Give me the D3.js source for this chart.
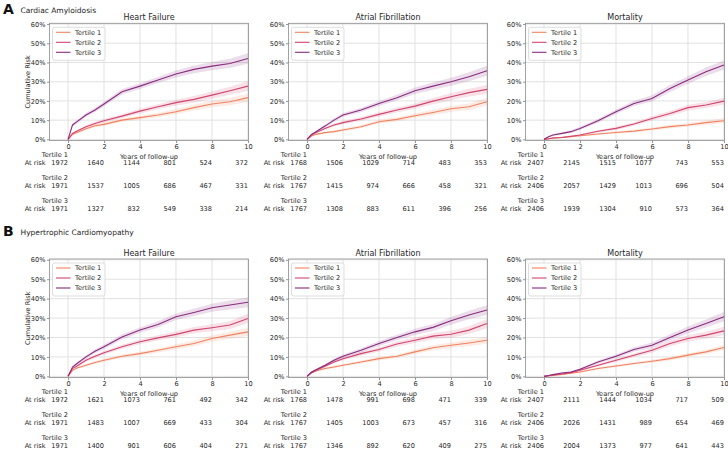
<!DOCTYPE html>
<html><head><meta charset="utf-8">
<script src="https://cdn.jsdelivr.net/npm/d3@7"></script>
<style>
body{margin:0;background:#fff;}
svg{font-family:"DejaVu Sans",sans-serif;}
</style></head>
<body><svg id="c" width="728" height="451"></svg>
<script>
// ---------- data ----------
const timeGrid = [0, 0.25, 0.5, 1, 1.5, 2, 3, 4, 5, 6, 7, 8, 9, 10];
const xTickValues = [0, 2, 4, 6, 8, 10];
const yTickValues = [0, 10, 20, 30, 40, 50, 60];
const tertileNames = ["Tertile 1", "Tertile 2", "Tertile 3"];
const diseaseNames = ["Cardiac Amyloidosis", "Hypertrophic Cardiomyopathy"];
const panelLetters = ["A", "B"];
const outcomeNames = ["Heart Failure", "Atrial Fibrillation", "Mortality"];

// cumulative risk (%) per tertile
const caHF_t1 = [0, 2.6, 3.6, 5.5, 7.1, 7.8, 10.0, 11.3, 12.7, 14.4, 16.5, 18.4, 19.6, 21.7];
const caHF_t2 = [0, 3.1, 4.3, 6.6, 8.3, 9.7, 12.1, 14.7, 17.0, 19.1, 20.8, 23.0, 25.3, 27.7];
const caHF_t3 = [0, 7.5, 9.2, 12.7, 15.3, 18.4, 24.8, 27.7, 30.9, 34.0, 36.4, 38.1, 39.5, 42.1];
const caAF_t1 = [0, 1.7, 2.6, 3.5, 4.0, 4.9, 6.6, 9.2, 10.4, 12.3, 14.0, 15.9, 17.0, 19.6];
const caAF_t2 = [0, 2.3, 3.5, 5.7, 7.5, 8.7, 10.6, 13.0, 15.3, 17.3, 19.9, 22.2, 24.3, 26.0];
const caAF_t3 = [0, 2.6, 4.0, 6.9, 10.0, 12.7, 15.3, 18.7, 21.7, 25.3, 27.7, 30.0, 32.6, 35.7];
const caMort_t1 = [0, 0.3, 0.7, 1.0, 1.4, 1.9, 2.8, 3.6, 4.3, 5.4, 6.6, 7.5, 8.7, 9.7];
const caMort_t2 = [0, 0.3, 0.7, 1.0, 1.6, 2.3, 4.2, 5.7, 8.0, 10.9, 13.5, 16.5, 17.9, 19.9];
const caMort_t3 = [0, 1.4, 2.3, 3.1, 4.0, 5.7, 9.7, 14.4, 18.7, 21.3, 26.5, 30.9, 35.2, 38.7];
const hcmHF_t1 = [0, 3.1, 4.3, 5.7, 7.1, 8.3, 10.3, 11.7, 13.4, 15.2, 16.9, 19.5, 21.2, 22.9];
const hcmHF_t2 = [0, 4.0, 5.3, 8.3, 10.3, 12.1, 15.2, 17.8, 19.8, 21.6, 23.8, 25.0, 26.4, 29.8];
const hcmHF_t3 = [0, 4.8, 6.6, 10.0, 12.9, 15.2, 20.3, 23.8, 26.7, 30.7, 32.9, 35.3, 36.7, 38.1];
const hcmAF_t1 = [0, 1.7, 2.8, 4.0, 4.8, 5.7, 7.4, 9.1, 10.3, 12.6, 14.7, 16.0, 17.2, 18.6];
const hcmAF_t2 = [0, 1.9, 3.1, 5.2, 7.4, 9.1, 11.7, 13.8, 16.6, 18.6, 20.7, 21.7, 23.8, 27.2];
const hcmAF_t3 = [0, 2.2, 3.4, 5.7, 8.3, 10.3, 13.4, 16.9, 20.0, 22.9, 25.2, 28.6, 31.6, 34.1];
const hcmMort_t1 = [0, 0.2, 0.5, 1.0, 1.6, 2.2, 4.0, 5.3, 6.6, 7.8, 9.1, 10.9, 12.6, 14.8];
const hcmMort_t2 = [0, 0.3, 0.7, 1.2, 1.9, 3.1, 5.7, 8.3, 10.9, 13.4, 16.9, 19.5, 21.2, 23.4];
const hcmMort_t3 = [0, 0.4, 0.9, 1.7, 2.2, 3.6, 7.4, 10.3, 13.8, 16.0, 20.0, 23.8, 27.2, 30.7];

// confidence-band half widths (%)
const caHF_ci1 = [0, 0.5, 0.6, 0.7, 0.8, 0.8, 0.9, 1.0, 1.2, 1.3, 1.5, 1.7, 1.9, 2.2];
const caHF_ci2 = [0, 0.5, 0.6, 0.7, 0.8, 0.9, 1.0, 1.2, 1.3, 1.5, 1.7, 1.9, 2.1, 2.5];
const caHF_ci3 = [0, 0.8, 0.9, 1.0, 1.1, 1.2, 1.4, 1.5, 1.6, 1.8, 2.0, 2.2, 2.4, 2.7];
const caAF_ci1 = [0, 0.3, 0.4, 0.5, 0.6, 0.7, 0.8, 1.0, 1.1, 1.2, 1.4, 1.5, 1.7, 2.0];
const caAF_ci2 = [0, 0.4, 0.5, 0.6, 0.7, 0.8, 1.0, 1.1, 1.3, 1.4, 1.6, 1.8, 2.0, 2.3];
const caAF_ci3 = [0, 0.5, 0.6, 0.8, 0.9, 1.0, 1.2, 1.3, 1.5, 1.7, 1.9, 2.1, 2.3, 2.6];
const caMort_ci1 = [0, 0.2, 0.2, 0.3, 0.3, 0.4, 0.5, 0.6, 0.7, 0.8, 0.9, 1.0, 1.1, 1.3];
const caMort_ci2 = [0, 0.2, 0.3, 0.3, 0.4, 0.5, 0.6, 0.8, 0.9, 1.1, 1.3, 1.5, 1.6, 1.8];
const caMort_ci3 = [0, 0.4, 0.5, 0.6, 0.7, 0.8, 1.0, 1.2, 1.4, 1.6, 1.8, 2.0, 2.2, 2.4];
const hcmHF_ci1 = [0, 0.4, 0.5, 0.6, 0.7, 0.8, 0.9, 1.0, 1.1, 1.3, 1.4, 1.6, 1.8, 2.1];
const hcmHF_ci2 = [0, 0.5, 0.6, 0.7, 0.8, 0.9, 1.1, 1.2, 1.3, 1.5, 1.6, 1.8, 2.0, 2.4];
const hcmHF_ci3 = [0, 0.6, 0.7, 0.9, 1.0, 1.1, 1.3, 1.4, 1.6, 1.7, 1.9, 2.1, 2.3, 2.6];
const hcmAF_ci1 = [0, 0.3, 0.4, 0.5, 0.6, 0.7, 0.8, 0.9, 1.0, 1.1, 1.3, 1.4, 1.6, 1.8];
const hcmAF_ci2 = [0, 0.4, 0.5, 0.6, 0.7, 0.8, 1.0, 1.1, 1.3, 1.4, 1.6, 1.8, 2.0, 2.3];
const hcmAF_ci3 = [0, 0.4, 0.5, 0.6, 0.8, 0.9, 1.1, 1.3, 1.4, 1.6, 1.8, 2.0, 2.2, 2.5];
const hcmMort_ci1 = [0, 0.1, 0.2, 0.3, 0.3, 0.4, 0.5, 0.6, 0.7, 0.8, 0.9, 1.0, 1.1, 1.3];
const hcmMort_ci2 = [0, 0.2, 0.3, 0.4, 0.5, 0.6, 0.7, 0.9, 1.0, 1.2, 1.4, 1.6, 1.8, 2.1];
const hcmMort_ci3 = [0, 0.2, 0.3, 0.4, 0.5, 0.6, 0.8, 1.0, 1.2, 1.4, 1.6, 1.8, 2.1, 2.4];

// numbers at risk at years 0,2,4,6,8,10
const caHF_risk1 = [1972, 1640, 1144, 801, 524, 372];
const caHF_risk2 = [1971, 1537, 1005, 686, 467, 331];
const caHF_risk3 = [1971, 1327, 832, 549, 338, 214];
const caAF_risk1 = [1768, 1506, 1029, 714, 483, 353];
const caAF_risk2 = [1767, 1415, 974, 666, 458, 321];
const caAF_risk3 = [1767, 1308, 883, 611, 396, 256];
const caMort_risk1 = [2407, 2145, 1515, 1077, 743, 553];
const caMort_risk2 = [2406, 2057, 1429, 1013, 696, 504];
const caMort_risk3 = [2406, 1939, 1304, 910, 573, 364];
const hcmHF_risk1 = [1972, 1621, 1073, 761, 492, 342];
const hcmHF_risk2 = [1971, 1483, 1007, 669, 433, 304];
const hcmHF_risk3 = [1971, 1400, 901, 606, 404, 271];
const hcmAF_risk1 = [1768, 1478, 991, 698, 471, 339];
const hcmAF_risk2 = [1767, 1405, 1003, 673, 457, 316];
const hcmAF_risk3 = [1767, 1346, 892, 620, 409, 275];
const hcmMort_risk1 = [2407, 2111, 1444, 1034, 717, 509];
const hcmMort_risk2 = [2406, 2026, 1431, 989, 654, 469];
const hcmMort_risk3 = [2406, 2004, 1373, 977, 641, 443];

// ---------- assemble ----------
const panelData = [
  [ {risk:[caHF_t1,caHF_t2,caHF_t3], ci:[caHF_ci1,caHF_ci2,caHF_ci3], atRisk:[caHF_risk1,caHF_risk2,caHF_risk3]},
    {risk:[caAF_t1,caAF_t2,caAF_t3], ci:[caAF_ci1,caAF_ci2,caAF_ci3], atRisk:[caAF_risk1,caAF_risk2,caAF_risk3]},
    {risk:[caMort_t1,caMort_t2,caMort_t3], ci:[caMort_ci1,caMort_ci2,caMort_ci3], atRisk:[caMort_risk1,caMort_risk2,caMort_risk3]} ],
  [ {risk:[hcmHF_t1,hcmHF_t2,hcmHF_t3], ci:[hcmHF_ci1,hcmHF_ci2,hcmHF_ci3], atRisk:[hcmHF_risk1,hcmHF_risk2,hcmHF_risk3]},
    {risk:[hcmAF_t1,hcmAF_t2,hcmAF_t3], ci:[hcmAF_ci1,hcmAF_ci2,hcmAF_ci3], atRisk:[hcmAF_risk1,hcmAF_risk2,hcmAF_risk3]},
    {risk:[hcmMort_t1,hcmMort_t2,hcmMort_t3], ci:[hcmMort_ci1,hcmMort_ci2,hcmMort_ci3], atRisk:[hcmMort_risk1,hcmMort_risk2,hcmMort_risk3]} ]
];

// ---------- layout / style ----------
const colors = ["#f2825f", "#d2456f", "#8a2b80"];
const colLeft = [49.5, 288.5, 525.5];
const plotW = 199;
const rowTop = [23.3, 259];
const rowBottom = [140.5, 377.5];
const textColor = "#262626";
const fs = 6.6;

const svg = d3.select("#c");

panelLetters.forEach((L, r) => {
  const by = r === 0 ? 14 : 236;
  svg.append("text").attr("x", 3).attr("y", by).attr("font-size", 14).attr("font-weight", "bold")
    .attr("fill", "#111").text(L);
  svg.append("text").attr("x", 20.5).attr("y", by - 1.2).attr("font-size", 7.5).attr("fill", textColor)
    .text(diseaseNames[r]);
});

for (let r = 0; r < 2; r++) {
  for (let c = 0; c < 3; c++) {
    const pd = panelData[r][c];
    const x = d3.scaleLinear().domain([-1.03, 10.03]).range([colLeft[c], colLeft[c] + plotW]);
    const y = d3.scaleLinear().domain([-0.6, 60.4]).range([rowBottom[r], rowTop[r]]);
    const g = svg.append("g");
    const pt = rowTop[r], pb = rowBottom[r];

    // grid
    g.append("g").selectAll("line").data(xTickValues).join("line")
      .attr("x1", d => x(d)).attr("x2", d => x(d)).attr("y1", pt).attr("y2", pb)
      .attr("stroke", "#dedede").attr("stroke-width", 0.9);
    g.append("g").selectAll("line").data(yTickValues).join("line")
      .attr("y1", d => y(d)).attr("y2", d => y(d)).attr("x1", x.range()[0]).attr("x2", x.range()[1])
      .attr("stroke", "#dedede").attr("stroke-width", 0.9);

    // bands + lines
    const clipId = `clip${r}${c}`;
    svg.append("clipPath").attr("id", clipId).append("rect")
      .attr("x", x.range()[0]).attr("y", pt).attr("width", plotW).attr("height", pb - pt);
    const marks = g.append("g").attr("clip-path", `url(#${clipId})`);
    for (let k = 0; k < 3; k++) {
      const pts = timeGrid.map((t, i) => ({t, v: pd.risk[k][i], h: pd.ci[k][i]}));
      marks.append("path").datum(pts)
        .attr("d", d3.area().x(d => x(d.t)).y0(d => y(d.v - d.h)).y1(d => y(d.v + d.h)))
        .attr("fill", colors[k]).attr("fill-opacity", 0.16);
    }
    for (let k = 0; k < 3; k++) {
      const pts = timeGrid.map((t, i) => ({t, v: pd.risk[k][i]}));
      marks.append("path").datum(pts)
        .attr("d", d3.line().x(d => x(d.t)).y(d => y(d.v)))
        .attr("fill", "none").attr("stroke", colors[k]).attr("stroke-width", 1.1);
    }

    // axes
    const xa = g.append("g").attr("transform", `translate(0,${pb})`)
      .call(d3.axisBottom(x).tickValues(xTickValues).tickSize(2.5).tickPadding(1.5).tickFormat(d3.format("d")));
    const ya = g.append("g").attr("transform", `translate(${x.range()[0]},0)`)
      .call(d3.axisLeft(y).tickValues(yTickValues).tickSize(2.5).tickPadding(1.5).tickFormat(d => d + "%"));
    [xa, ya].forEach(a => {
      a.select(".domain").remove();
      a.selectAll("line").attr("stroke", "#666").attr("stroke-width", 0.7);
      a.selectAll("text").attr("font-size", fs).attr("fill", textColor).attr("font-family", "DejaVu Sans");
    });
    // frame
    g.append("rect").attr("x", x.range()[0]).attr("y", pt).attr("width", plotW).attr("height", pb - pt)
      .attr("fill", "none").attr("stroke", "#8c8c8c").attr("stroke-width", 0.8);

    // title
    g.append("text").attr("x", x.range()[0] + plotW / 2).attr("y", pt - 3).attr("text-anchor", "middle")
      .attr("font-size", 8).attr("fill", textColor).text(outcomeNames[c]);

    // y label
    if (c === 0) {
      g.append("text").attr("transform", `translate(30,${(pt + pb) / 2}) rotate(-90)`)
        .attr("text-anchor", "middle").attr("font-size", fs).attr("fill", textColor).text("Cumulative Risk");
    }

    // legend
    const lx = x.range()[0] + 3, ly = pt + 4;
    g.append("rect").attr("x", lx).attr("y", ly).attr("width", 52.5).attr("height", 33).attr("rx", 2)
      .attr("fill", "#fff").attr("fill-opacity", 0.85).attr("stroke", "#d0d0d0").attr("stroke-width", 0.7);
    tertileNames.forEach((nm, k) => {
      const yy = ly + 5 + k * 10;
      g.append("line").attr("x1", lx + 3.5).attr("x2", lx + 18).attr("y1", yy).attr("y2", yy)
        .attr("stroke", colors[k]).attr("stroke-width", 1.1);
      g.append("text").attr("x", lx + 22.5).attr("y", yy + 2.3).attr("font-size", fs).attr("fill", textColor).text(nm);
    });

    // x label
    g.append("text").attr("x", x.range()[0] + plotW / 2).attr("y", pb + 18.3).attr("text-anchor", "middle")
      .attr("font-size", fs).attr("fill", textColor).text("Years of follow-up");

    // at-risk table
    const rowOff = [0, 23, 46];
    for (let k = 0; k < 3; k++) {
      const base = pb + 16.5 + rowOff[k];
      g.append("text").attr("x", x(0)).attr("y", base).attr("text-anchor", "end")
        .attr("font-size", fs).attr("fill", textColor).text(tertileNames[k]);
      g.append("text").attr("x", x(0) - 22.5).attr("y", base + 7.7).attr("text-anchor", "end")
        .attr("font-size", fs).attr("fill", textColor).text("At risk");
      g.append("g").selectAll("text").data(pd.atRisk[k]).join("text")
        .attr("x", (d, i) => x(xTickValues[i])).attr("y", base + 7.7).attr("text-anchor", "end")
        .attr("font-size", fs).attr("fill", textColor).text(d => d);
    }
  }
}
</script></body></html>
